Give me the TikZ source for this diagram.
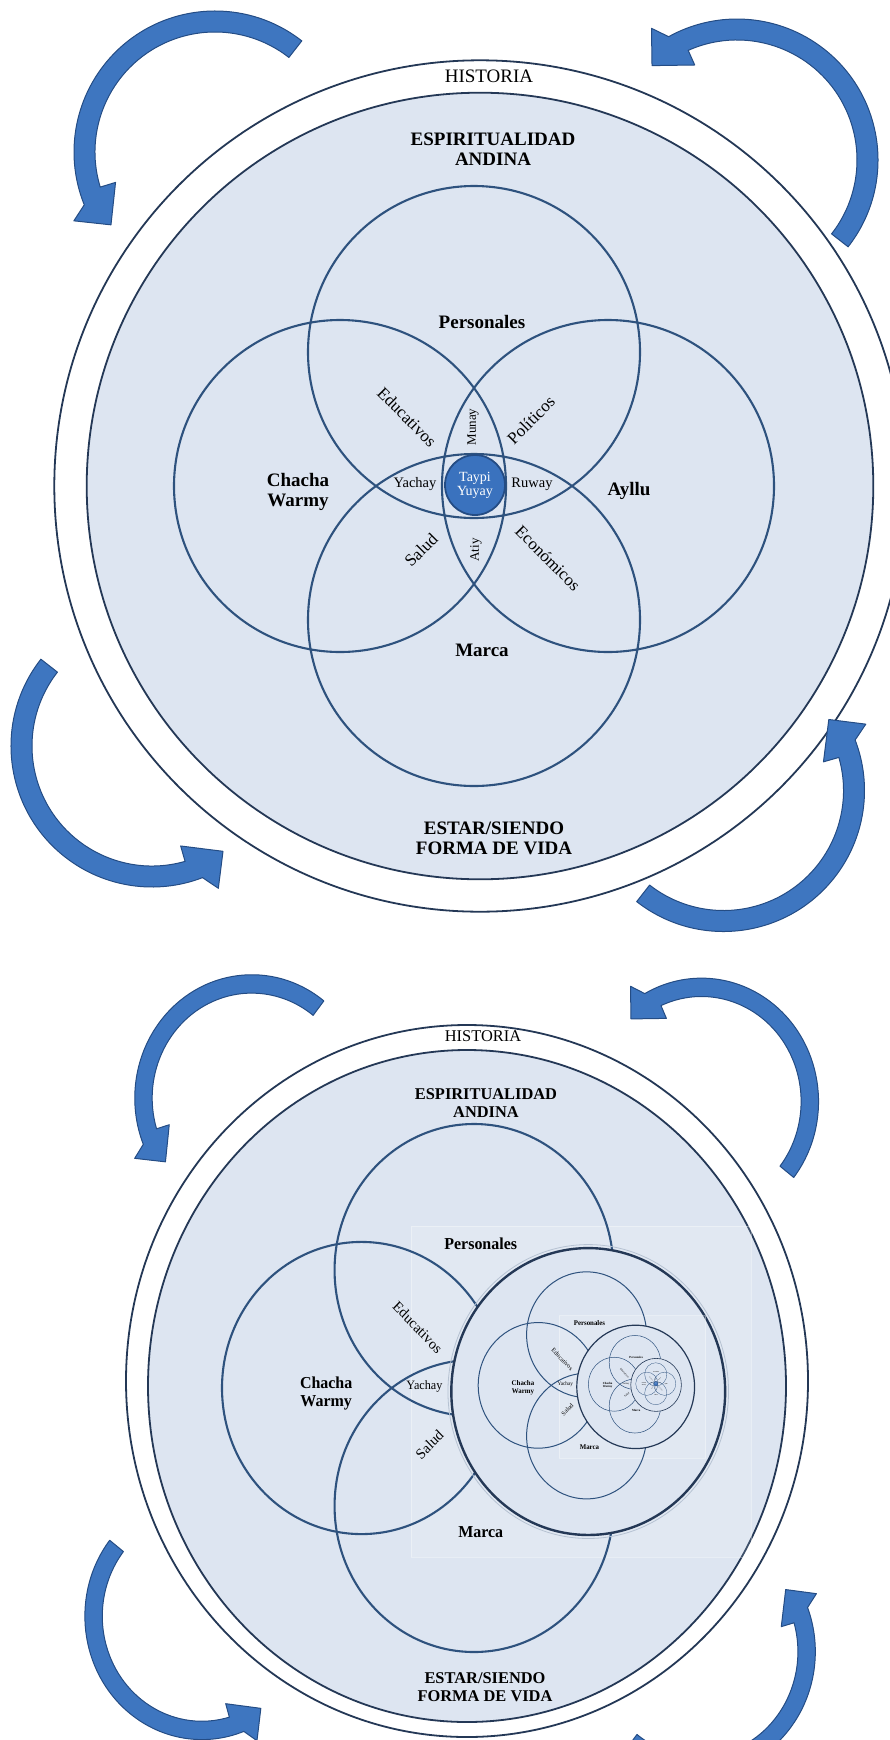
\documentclass[tikz,border=0pt]{standalone}
\usepackage{fontspec}
\setmainfont{Liberation Serif}
\usepackage{tikz}
\definecolor{ringblue}{RGB}{36,56,86}
\definecolor{vennblue}{RGB}{46,82,126}
\definecolor{discfill}{RGB}{221,229,241}
\definecolor{arrowfill}{RGB}{62,118,192}
\definecolor{arrowedge}{RGB}{36,76,132}
\definecolor{taypifill}{RGB}{58,114,190}

\begin{document}
\begin{tikzpicture}[x=1pt, y=-1pt,
  ring/.style={draw=\cRing, line width=1.8pt},
  venn/.style={draw=\cVenn, line width=2.1pt},
  biglbl/.style={font=\fontsize{19}{20}\selectfont\bfseries, align=center, inner sep=0pt, text=\cText},
  smalllbl/.style={font=\fontsize{14.5}{15}\selectfont, inner sep=0pt, text=\cText},
  slantlbl/.style={font=\fontsize{17}{17}\selectfont, inner sep=0pt, text=\cText},
  ringlbl/.style={font=\fontsize{19}{20}\selectfont, inner sep=0pt, text=\cText},
  biglblB/.style={font=\fontsize{16.4}{17.5}\selectfont\bfseries, align=center, inner sep=0pt, text=\cText},
  ringlblB/.style={font=\fontsize{16.4}{17.5}\selectfont, inner sep=0pt, text=\cText},
  taypidot/.style={circle, fill=\cDot, draw=\cEdge, line width=1.8pt, minimum size=60pt, inner sep=0pt,
    text=white, align=center, font=\fontsize{14}{14}\selectfont},
  arrowshape/.style={fill=\cArrow, draw=\cEdge, line width=1pt, line join=round},
  minidisc/.style={fill=\cDisc, draw=\cRing, line width=2.4pt},
  shot/.style={fill=white, fill opacity=0.12, draw=white, draw opacity=0.35, line width=0.6pt}]
\def\cRing{ringblue}
\def\cVenn{vennblue}
\def\cDisc{discfill}
\def\cArrow{arrowfill}
\def\cEdge{arrowedge}
\def\cDot{taypifill}
\def\cText{black}
\useasboundingbox (0,0) rectangle (889,1740);
% three circles with their labels, centre at origin
\def\venntri#1{
  \draw[venn] (0,-134) circle[radius=166];
  \draw[venn] (-134,0) circle[radius=166];
  \draw[venn] (0,134) circle[radius=166];
  \node[biglbl] (#1pers) at (8,-164) {Personales};
  \node[biglbl] (#1chacha) at (-176,6) {Chacha\\Warmy};
  \node[biglbl] (#1marca) at (8,164) {Marca};
  \node[slantlbl, rotate=-45] (#1edu) at (-67,-69) {Educativos};
  \node[smalllbl] (#1yachay) at (-59,-2) {Yachay};
  \node[slantlbl, rotate=45] (#1salud) at (-53,64) {Salud};
}
% the four circles, as in the upper diagram
\def\vennfour#1{
  \venntri{#1}
  \draw[venn] (134,0) circle[radius=166];
  \node[biglbl] (#1ayllu) at (155,5) {Ayllu};
  \node[slantlbl, rotate=45] (#1poli) at (57,-66) {Políticos};
  \node[slantlbl, rotate=-45] (#1econ) at (74,72) {Económicos};
  \node[smalllbl] (#1ruway) at (58,-2) {Ruway};
  \node[smalllbl, font=\fontsize{13}{13}\selectfont, rotate=90] (#1munay) at (-1,-59) {Munay};
  \node[smalllbl, font=\fontsize{13}{13}\selectfont, rotate=90] (#1atiy) at (2,64) {Atiy};
  \node[taypidot] (#1taypi) at (1,-1) {Taypi\\Yuyay};
}
% curved arrow: #1 tail angle, #2 tip angle
\def\bluearrow#1#2{
  \filldraw[arrowshape] (#1:141) arc[start angle=#1, end angle=#2+13, radius=141]
    -- ({#2+9}:157) -- (#2:127) -- ({#2+18}:104) -- ({#2+18}:120)
    arc[start angle=#2+18, end angle=#1, radius=120] -- cycle;
}

%%% upper diagram
\draw[ring, fill=white] (480,486) circle[radius=425.7];
\draw[ring, fill=\cDisc] (480,486) circle[radius=393.3];
\node[ringlbl] (histA) at (489,76) {HISTORIA};
\node[biglbl] (espA) at (493,149) {ESPIRITUALIDAD\\ANDINA};
\node[biglbl] (estarA) at (494,838) {ESTAR/SIENDO\\FORMA DE VIDA};
\begin{scope}[shift={(474,486)}]
  \vennfour{A}
\end{scope}
\begin{scope}[shift={(215,152)}]
  \bluearrow{-52}{-215}
\end{scope}
\begin{scope}[shift={(737,160)}]
  \bluearrow{38}{-132}
\end{scope}
\begin{scope}[shift={(152,746)}]
  \bluearrow{-142}{-304}
\end{scope}
\begin{scope}[shift={(723.5,790.5)}]
  \bluearrow{128}{-34}
\end{scope}

%%% lower diagram
\draw[ring, fill=white] (467,1381) ellipse[x radius=341, y radius=356];
\draw[ring, fill=\cDisc] (467,1386) ellipse[x radius=319, y radius=336];
\node[ringlblB] (histB) at (483,1036) {HISTORIA};
\node[biglblB] (espB) at (486,1103) {ESPIRITUALIDAD\\ANDINA};
\node[biglblB] (estarB) at (485,1687) {ESTAR/SIENDO\\FORMA DE VIDA};
\begin{scope}[shift={(474,1388)}, xscale=0.84, yscale=0.88, transform shape]
  \filldraw[shot] (-75,-184) rectangle (330,192);
  \venntri{B}
  \draw[draw=\cVenn!35, line width=0.8pt] (136,4) circle[radius=167];
  \draw[minidisc] (136,4) circle[radius=163];
  \begin{scope}[shift={(134,-3)}, scale=0.43, venn/.append style={line width=1pt},
      minidisc/.append style={line width=1.2pt}]
    \filldraw[shot] (-75,-184) rectangle (330,192);
    \venntri{C}
    \draw[minidisc] (136,4) circle[radius=163];
    \begin{scope}[shift={(134,-3)}, scale=0.43, venn/.append style={line width=0.5pt},
        minidisc/.append style={line width=0.6pt}]
      \venntri{D}
      \draw[minidisc] (136,4) circle[radius=163];
      \begin{scope}[shift={(134,-3)}, scale=0.43, venn/.append style={line width=0.3pt},
          taypidot/.append style={line width=0.3pt}]
        \vennfour{E}
      \end{scope}
    \end{scope}
  \end{scope}
\end{scope}
\begin{scope}[shift={(251.8,1098.1)}, xscale=0.83, yscale=0.875]
  \bluearrow{-52}{-215}
\end{scope}
\begin{scope}[shift={(701.5,1101.5)}, xscale=0.83, yscale=0.875]
  \bluearrow{38}{-132}
\end{scope}
\begin{scope}[shift={(201.9,1616.2)}, xscale=0.83, yscale=0.875]
  \bluearrow{-142}{-304}
\end{scope}
\begin{scope}[shift={(698.3,1651.7)}, xscale=0.83, yscale=0.875]
  \bluearrow{128}{-34}
\end{scope}
\end{tikzpicture}
\end{document}
